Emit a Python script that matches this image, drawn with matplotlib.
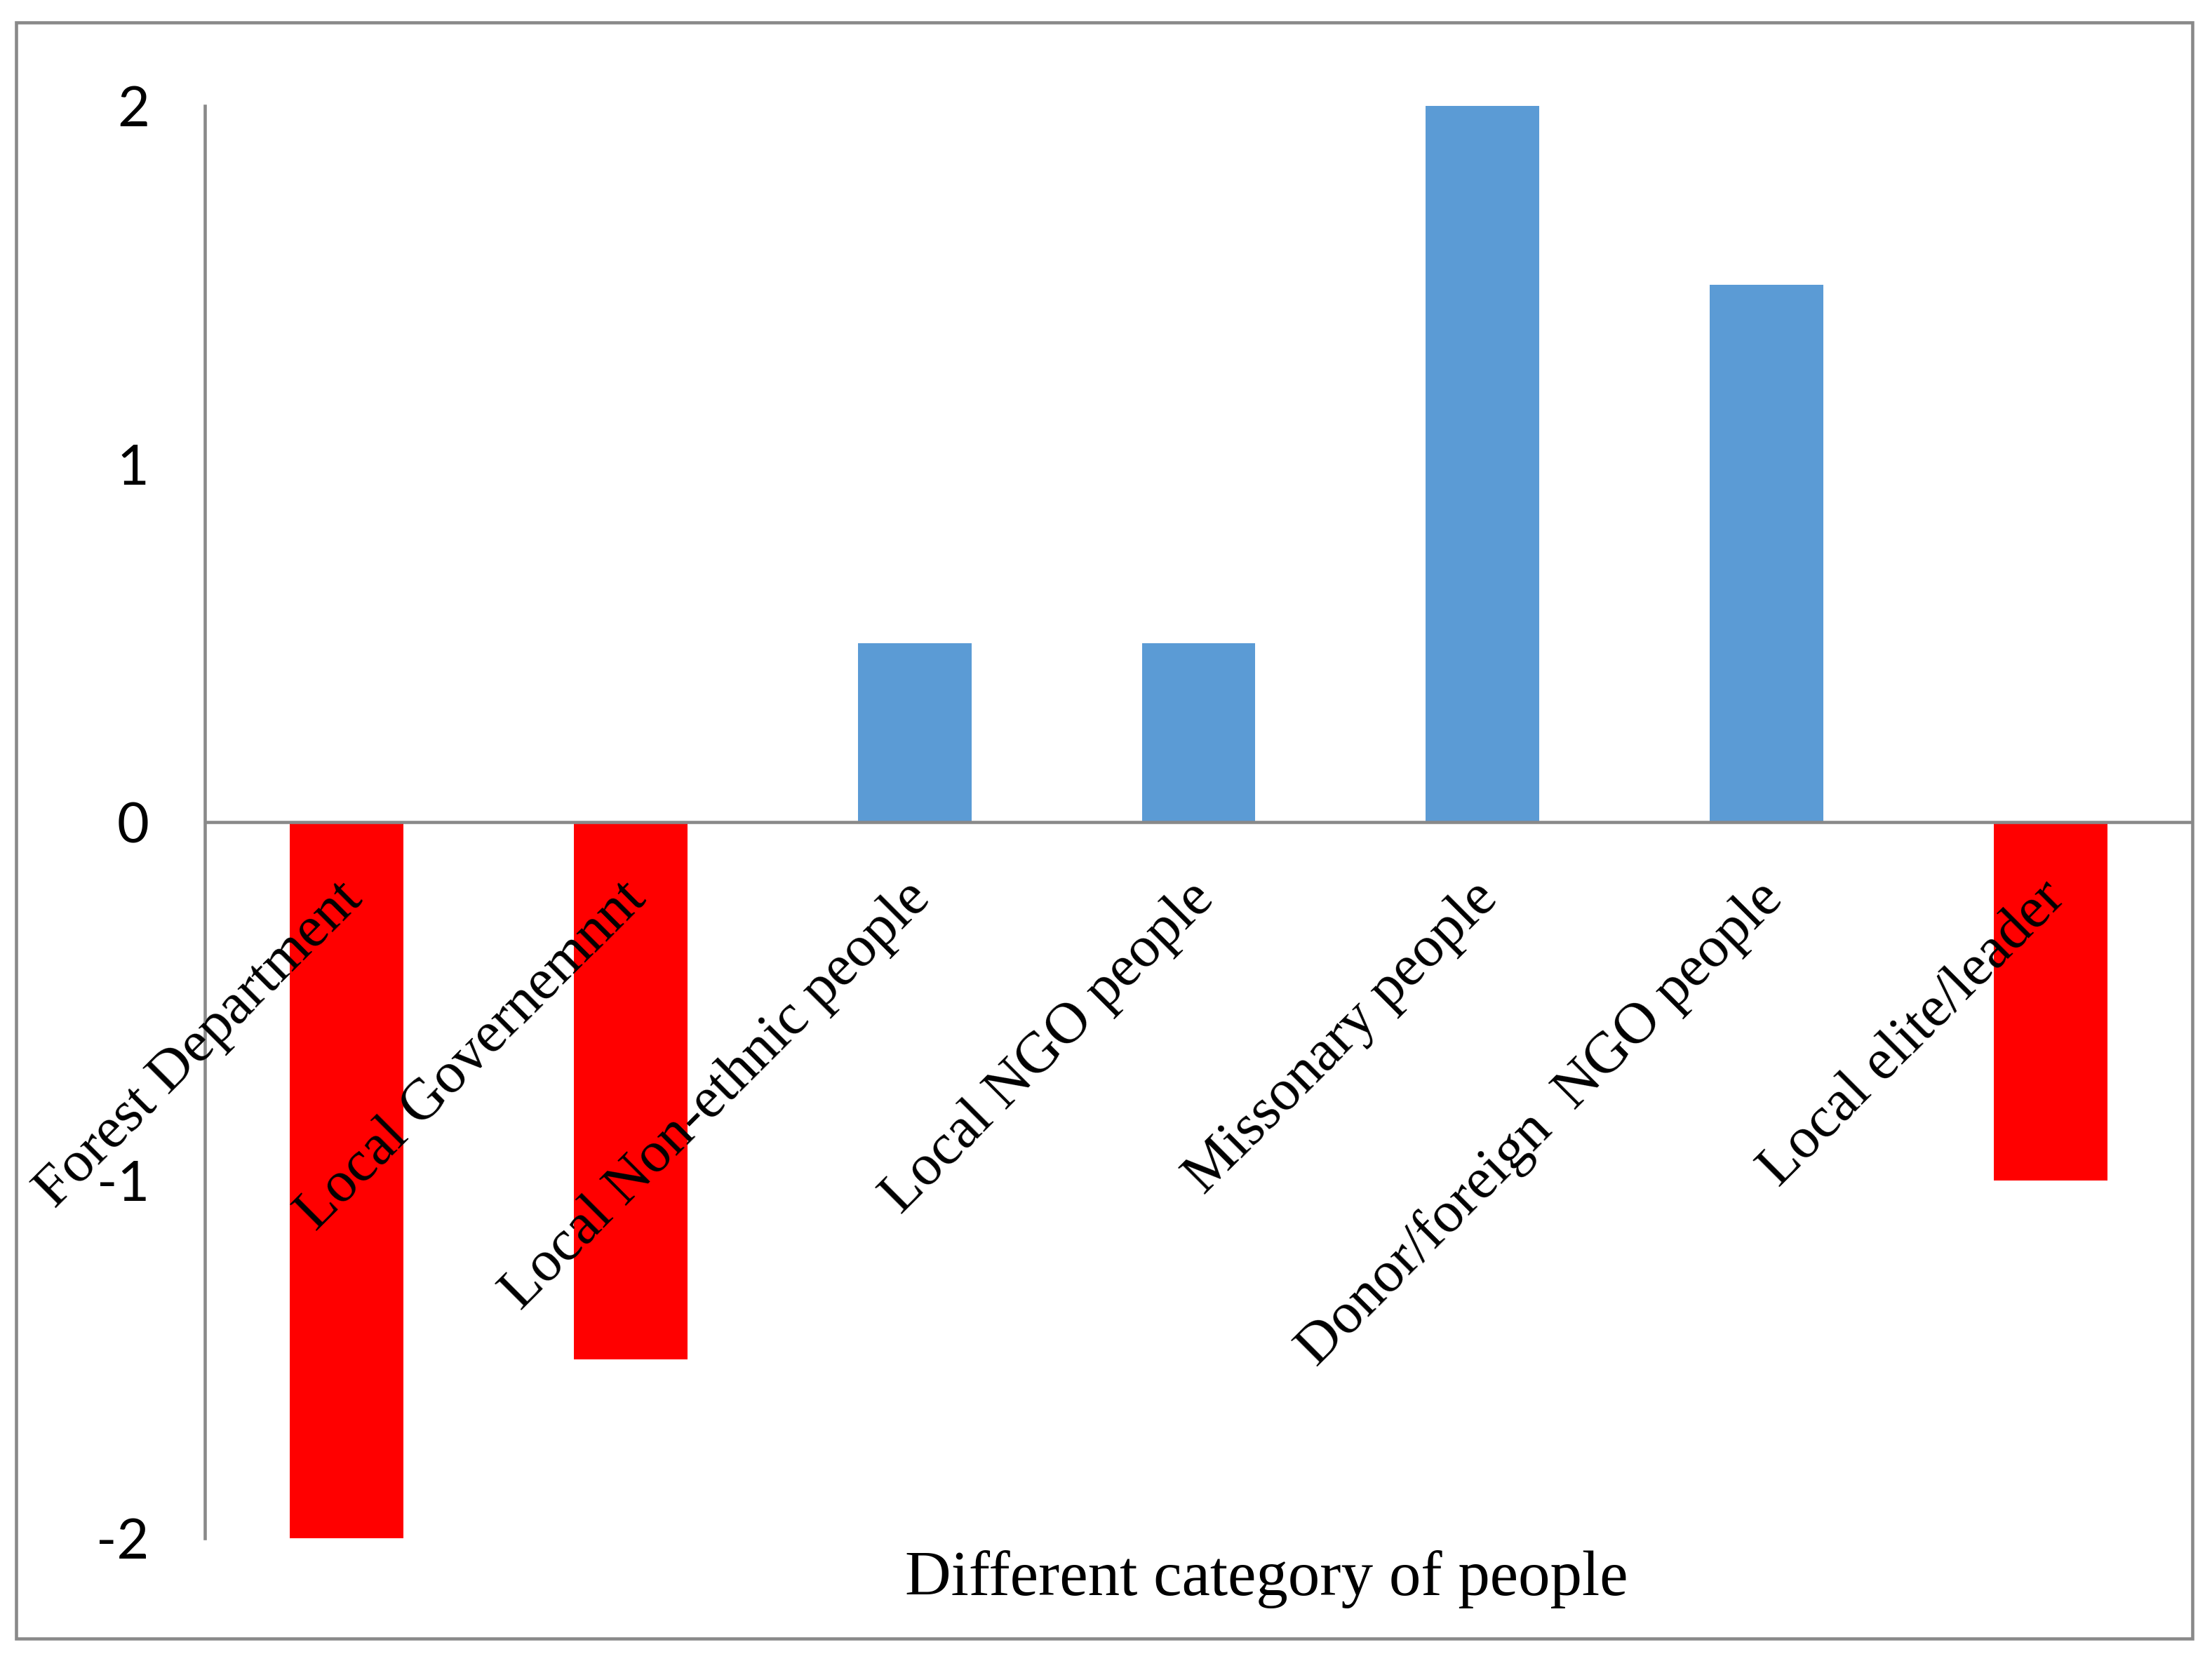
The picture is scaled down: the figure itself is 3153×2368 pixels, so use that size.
import matplotlib
matplotlib.use("Agg")
import matplotlib.pyplot as plt
from matplotlib.patches import Rectangle

categories = [
    "Forest Department",
    "Local Governemnnt",
    "Local Non-ethnic people",
    "Local NGO people",
    "Missonary people",
    "Donor/foreign  NGO people",
    "Local elite/leader",
]
scores = [-2, -1.5, 0.5, 0.5, 2, 1.5, -1]
yticks = [-2, -1, 0, 1, 2]
xlabel = "Different category of people"

POS_COLOR = "#5B9BD5"
NEG_COLOR = "#FF0000"
GRAY = "#898989"

plt.rcParams["axes.unicode_minus"] = False

fig = plt.figure(figsize=(3153 / 300, 2368 / 300), dpi=300)
ax = fig.add_axes([292 / 3153, 1 - 2193 / 2368, (3125 - 292) / 3153, (2193 - 151) / 2368])

xs = list(range(len(categories)))
colors = [POS_COLOR if v > 0 else NEG_COLOR for v in scores]
ax.bar(xs, scores, width=0.4, color=colors, zorder=2)

ax.set_xlim(-0.5, len(categories) - 0.5)
ax.set_ylim(-2, 2)
ax.axhline(0, color=GRAY, linewidth=1.1, zorder=3)

ax.set_yticks(yticks)
ax.set_yticklabels([str(v) for v in yticks], fontfamily="Lato", fontsize=19)
ax.tick_params(axis="y", length=0, pad=19)
ax.set_xticks([])
for side in ["top", "right", "bottom"]:
    ax.spines[side].set_visible(False)
ax.spines["left"].set_color(GRAY)
ax.spines["left"].set_linewidth(1.1)

# category names hang below the zero line, rotated like the Excel original
for x, name in zip(xs, categories):
    ax.annotate(name, xy=(x, 0), xytext=(-4, -17), textcoords="offset points",
                rotation=45, rotation_mode="anchor", ha="right", va="top",
                fontfamily="Liberation Serif", fontsize=20, zorder=4)

fig.text(1805 / 3153, 1 - 2274 / 2368, xlabel, ha="center", va="baseline",
         fontfamily="Liberation Serif", fontsize=21.8)

# outer chart border
fig.patches.append(Rectangle((23 / 3153, 1 - 2336 / 2368), (3125 - 23) / 3153, (2336 - 32) / 2368,
                             transform=fig.transFigure, fill=False, edgecolor=GRAY, linewidth=1.1))

fig.savefig("out.png", dpi=300)
